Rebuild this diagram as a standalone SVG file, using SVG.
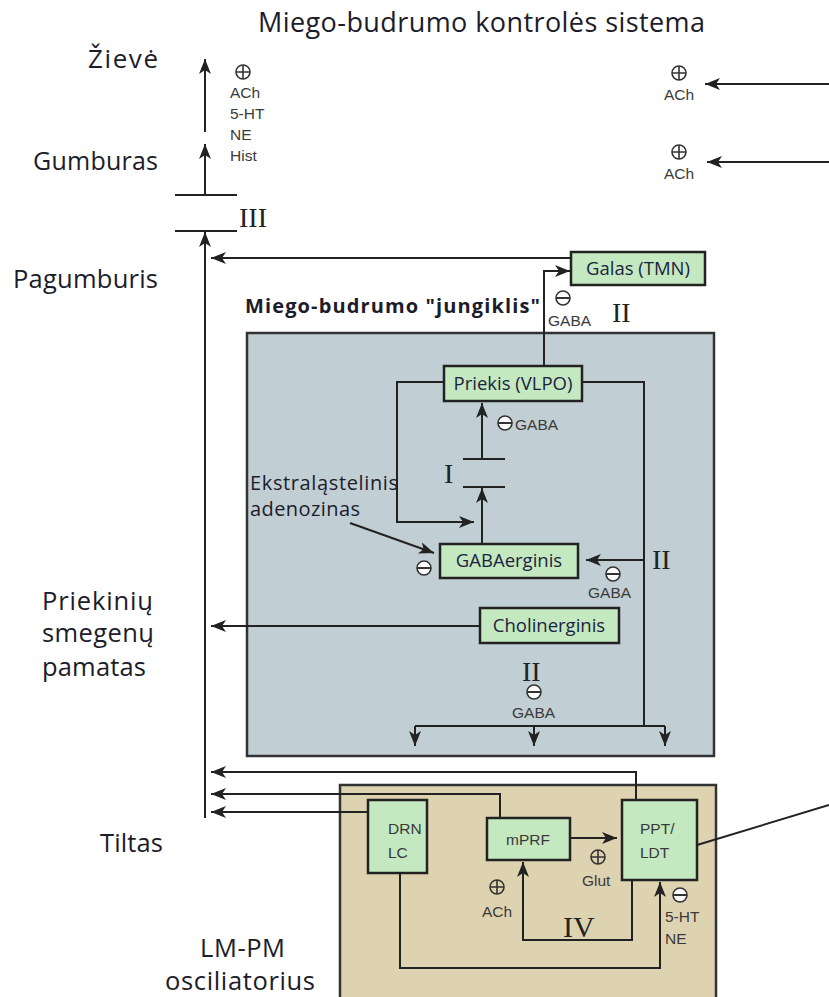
<svg xmlns="http://www.w3.org/2000/svg" width="829" height="997" viewBox="0 0 829 997">
<style>
.lbl{font-family:"Open Sans","Liberation Sans",sans-serif;fill:#1c1c2a}
.box{fill:#c4e8c0;stroke:#222;stroke-width:2.5}
.bt{font-family:"Open Sans","Liberation Sans",sans-serif;font-size:18.5px;fill:#1b2340;text-anchor:middle}
.st{font-family:"Liberation Sans",Arial,sans-serif;font-size:15.5px;fill:#3a3a3a}
.rn{font-family:"Liberation Serif","Times New Roman",serif;fill:#222}
.ln{fill:none;stroke:#222;stroke-width:2}
.ar{fill:none;stroke:#222;stroke-width:2;marker-end:url(#ah)}
.sym{fill:none;stroke:#333;stroke-width:1.6}
.symw{fill:#fff;stroke:#333;stroke-width:1.6}
</style>
<defs>
<marker id="ah" markerUnits="userSpaceOnUse" markerWidth="16" markerHeight="14" refX="15" refY="6" orient="auto">
<path d="M0,0 L15,6 L0,12 L4,6 z" fill="#222"/>
</marker>
<g id="plus"><circle r="7" class="sym"/><path d="M-7,0H7M0,-7V7" class="sym"/></g>
<g id="minus"><circle r="7" class="symw"/><path d="M-7,0H7" stroke="#333" stroke-width="2"/></g>
</defs>
<rect width="829" height="997" fill="#fff"/>

<!-- titles and region labels -->
<text class="lbl" x="258" y="32" font-size="27" textLength="447">Miego-budrumo kontrolės sistema</text>
<text class="lbl" x="88" y="68" font-size="26" textLength="70">Žievė</text>
<text class="lbl" x="33" y="170" font-size="25" textLength="125">Gumburas</text>
<text class="lbl" x="13" y="288" font-size="25.5" textLength="145">Pagumburis</text>
<text class="lbl" x="42" y="610" font-size="25.5" textLength="111">Priekinių</text>
<text class="lbl" x="42" y="642" font-size="25.5" textLength="112">smegenų</text>
<text class="lbl" x="42" y="676" font-size="25.5" textLength="104">pamatas</text>
<text class="lbl" x="100" y="852" font-size="25.5" textLength="63">Tiltas</text>
<text class="lbl" x="200" y="957" font-size="25.5" textLength="85">LM-PM</text>
<text class="lbl" x="165" y="990" font-size="25.5" textLength="150">osciliatorius</text>

<!-- big boxes -->
<g id="switch-box"><rect x="247" y="333" width="467" height="423" fill="#c1ced4" stroke="#333" stroke-width="2.5"/></g>
<text class="lbl" x="245" y="313" font-size="20" font-weight="bold" textLength="295">Miego-budrumo "jungiklis"</text>
<g id="osc-box"><rect x="340" y="785" width="376" height="220" fill="#ded3b1" stroke="#333" stroke-width="2.5"/></g>

<g id="connectors">
<path class="ar" d="M205,818 V232"/>
<path class="ln" d="M175,195 H237 M175,231 H237" stroke-width="2.5"/>
<path class="ar" d="M205,195 V144"/>
<path class="ar" d="M205,132 V59"/>
<path class="ar" d="M829,84 H705"/>
<path class="ar" d="M829,162 H707"/>
<path class="ar" d="M571,258 H211"/>
<path class="ar" d="M544,366 V271 H570"/>
<path class="ln" d="M444,382 H397 V522 H440"/>
<path class="ar" d="M440,522 H474"/>
<path class="ln" d="M582,382 H644 V726"/>
<path class="ln" d="M415,726 H665"/>
<path class="ar" d="M415,726 V746"/>
<path class="ar" d="M534,726 V746"/>
<path class="ar" d="M665,726 V746"/>
<path class="ar" d="M644,560 H586"/>
<path class="ar" d="M482,544 V488"/>
<path class="ln" d="M463,487 H505 M463,459 H505" stroke-width="2.5"/>
<path class="ar" d="M482,459 V403"/>
<path class="ar" d="M480,626 H211"/>
<path class="ar" d="M350,523 L434,553"/>
<path class="ar" d="M636,800 V772 H211"/>
<path class="ar" d="M500,818 V794 H211"/>
<path class="ar" d="M368,812 H211"/>
<path class="ar" d="M570,838 H617"/>
<path class="ar" d="M632,880 V940 H523 V862"/>
<path class="ar" d="M400,873 V968 H660 V882"/>
<path class="ln" d="M697,845 L829,805"/>
</g>

<!-- nodes -->
<g id="galas"><rect class="box" x="571" y="252" width="134" height="33"/><text class="bt" x="638" y="275">Galas (TMN)</text></g>
<g id="priekis"><rect class="box" x="444" y="366" width="138" height="35"/><text class="bt" x="513" y="390">Priekis (VLPO)</text></g>
<g id="gabaerginis"><rect class="box" x="440" y="544" width="138" height="34"/><text class="bt" x="509" y="567">GABAerginis</text></g>
<g id="cholinerginis"><rect class="box" x="480" y="608" width="139" height="35"/><text class="bt" x="549" y="632">Cholinerginis</text></g>
<g id="drn"><rect class="box" x="368" y="800" width="59" height="73"/><text class="st" x="388" y="834">DRN</text><text class="st" x="388" y="858">LC</text></g>
<g id="mprf"><rect class="box" x="487" y="818" width="83" height="42"/><text class="st" x="528" y="845" text-anchor="middle">mPRF</text></g>
<g id="ppt"><rect class="box" x="622" y="800" width="75" height="80"/><text class="st" x="640" y="834">PPT/</text><text class="st" x="640" y="858">LDT</text></g>

<!-- neurotransmitter labels -->
<use href="#plus" x="243" y="72"/>
<text class="st" x="230" y="98">ACh</text>
<text class="st" x="230" y="119">5-HT</text>
<text class="st" x="230" y="140">NE</text>
<text class="st" x="230" y="161">Hist</text>
<use href="#plus" x="679" y="73"/>
<text class="st" x="664" y="100">ACh</text>
<use href="#plus" x="679" y="152"/>
<text class="st" x="664" y="179">ACh</text>
<use href="#minus" x="563" y="298"/>
<text class="st" x="548" y="326">GABA</text>
<use href="#minus" x="505" y="423"/>
<text class="st" x="515" y="430">GABA</text>
<use href="#minus" x="424" y="568"/>
<use href="#minus" x="613" y="574"/>
<text class="st" x="588" y="598">GABA</text>
<use href="#minus" x="534" y="692"/>
<text class="st" x="512" y="718">GABA</text>
<use href="#plus" x="598" y="857"/>
<text class="st" x="582" y="886">Glut</text>
<use href="#plus" x="497" y="887"/>
<text class="st" x="482" y="917">ACh</text>
<use href="#minus" x="680" y="895"/>
<text class="st" x="665" y="922">5-HT</text>
<text class="st" x="665" y="944">NE</text>

<text class="lbl" x="250" y="490" font-size="20" textLength="148">Ekstraląstelinis</text>
<text class="lbl" x="250" y="516" font-size="20" textLength="110">adenozinas</text>

<!-- roman numerals -->
<text class="rn" x="239" y="227" font-size="28">III</text>
<text class="rn" x="612" y="322" font-size="28">II</text>
<text class="rn" x="444" y="483" font-size="28">I</text>
<text class="rn" x="652" y="569" font-size="28">II</text>
<text class="rn" x="522" y="681" font-size="28">II</text>
<text class="rn" x="563" y="937" font-size="30">IV</text>
</svg>
